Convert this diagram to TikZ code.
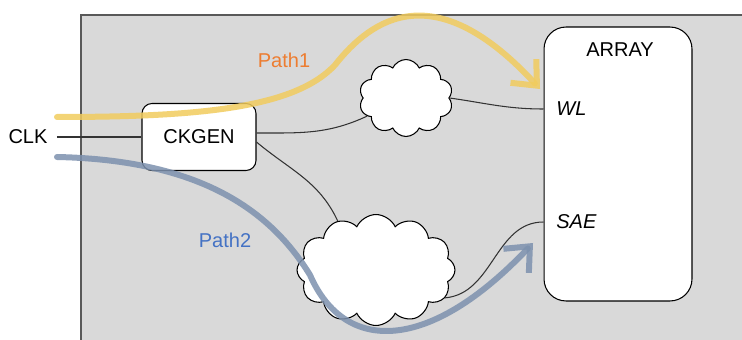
\documentclass[tikz,border=0pt]{standalone}
\usepackage{fontspec}
\setmainfont{Liberation Sans}
\usepackage{tikz}
\usetikzlibrary{arrows.meta}
\usetikzlibrary{shapes.symbols}
\usetikzlibrary{positioning}
\definecolor{bggray}{HTML}{D9D9D9}
\definecolor{edgegray}{HTML}{595959}
\definecolor{pyellow}{HTML}{F1CC5E}
\definecolor{pblue}{HTML}{7D91AE}
\definecolor{torange}{HTML}{ED7D31}
\definecolor{tblue}{HTML}{4472C4}
\tikzset{block/.style = {draw, fill=white, rounded corners=0.2cm, line width=0.6pt}}
\tikzset{puff/.style = {draw, fill=white, cloud, cloud ignores aspect, line width=0.6pt, inner sep=0}}
\tikzset{wire/.style = {line width=0.6pt, black!80}}
\tikzset{route/.style = {line width=0.12cm, opacity=0.85, line cap=round,
    -{Straight Barb[length=0.4cm, width=0.7cm]}}}
\tikzset{txt/.style = {font=\fontsize{11.4}{13}\selectfont, inner sep=0}}

\begin{document}
\begin{tikzpicture}[x=0.02cm, y=-0.02cm]
    \useasboundingbox (0, 0) rectangle (742, 340);
    \clip (0, 0) rectangle (742, 340);
    \draw [fill=bggray, draw=edgegray, line width=0.7pt] (81, 15) rectangle (760, 360);

    \node [txt, inner sep=0.18cm] (clk) at (28, 137) {CLK};
    \node [block, minimum width=2.28cm, minimum height=1.34cm, txt] (ck) at (199, 137) {CKGEN};
    \node [block, rounded corners=0.44cm, minimum width=2.96cm, minimum height=5.48cm] (ar) at (618, 164) {};
    \node [txt] (arname) at (620, 50) {ARRAY};
    \node [txt, anchor=west] (wl) at (556, 109) {\itshape WL};
    \node [txt, anchor=west] (sae) at (556, 222) {\itshape SAE};

    \node [puff, cloud puffs=10, cloud puff arc=130,
           minimum width=1.88cm, minimum height=1.54cm] (c1) at (406, 98) {};
    \node [puff, cloud puffs=12, cloud puff arc=130,
           minimum width=3.16cm, minimum height=2.22cm] (c2) at (376, 270) {};

    \draw [wire] (clk) -- (ck.west);
    \draw [wire] (ck.4) to[out=0, in=205] (c1.205);
    \draw [wire] (ck.-5) to[out=-40, in=115] (c2.128);
    \draw [wire] (c2.-22) to[out=5, in=180] (ar.west |- sae);
    \draw [wire] (c1.east) to[out=-8, in=180] (ar.west |- wl);

    % highlighted paths
    \coordinate (p1s) at (57, 117);
    \coordinate (p1e) at (540, 89);
    \coordinate (p2s) at (57, 157);
    \coordinate (p2e) at (533, 243);
    \draw [route, pyellow] (p1s) .. controls (200, 117) and (295, 108) .. (335, 65)
        .. controls (372, 18) and (435, -25) .. (p1e);
    \draw [route, pblue] (p2s) .. controls (200, 160) and (270, 210) .. (310, 275)
        .. controls (345, 355) and (430, 352) .. (p2e);

    \node [txt, torange] (lab1) at (284, 60) {Path1};
    \node [txt, tblue] (lab2) at (225, 240) {Path2};
\end{tikzpicture}
\end{document}
